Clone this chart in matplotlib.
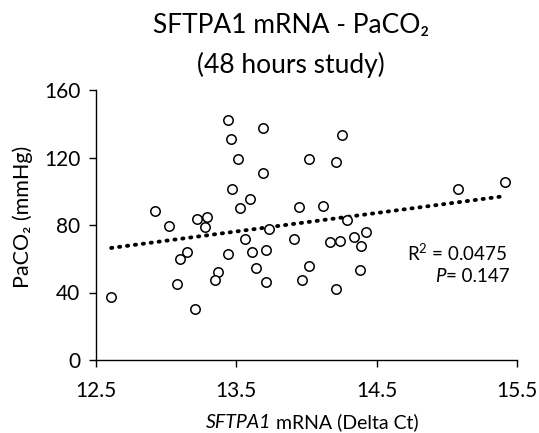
import matplotlib
matplotlib.use('Agg')
import matplotlib.pyplot as plt

# Delta Ct vs PaCO2
delta_ct = [12.61, 12.92, 13.02, 13.22, 13.29, 13.28, 13.15, 13.10, 13.08, 13.37,
            13.35, 13.21, 13.44, 13.44, 13.46, 13.47, 13.69, 14.25, 13.51, 14.02,
            14.21, 13.69, 13.60, 13.53, 13.95, 14.12, 13.73, 14.29, 14.42, 13.56,
            13.91, 14.17, 14.24, 14.34, 14.39, 13.61, 13.71, 13.64, 14.02, 14.38,
            13.71, 13.97, 14.21, 15.08, 15.41]
paco2 = [37.4, 88.2, 79.7, 83.3, 85.0, 79.1, 63.9, 59.7, 44.9, 52.2,
         47.3, 30.3, 63.1, 142.5, 130.8, 101.6, 137.2, 133.6, 119.4, 119.2,
         117.6, 111.1, 95.7, 89.8, 90.7, 91.0, 77.9, 82.7, 75.9, 71.6,
         71.6, 69.8, 70.8, 72.8, 67.6, 64.1, 65.1, 54.8, 55.8, 53.2,
         46.5, 47.7, 41.8, 101.6, 105.2]

# linear trend line end points
trend_x = [12.61, 15.39]
trend_y = [66.4, 96.9]

xticks = [12.5, 13.5, 14.5, 15.5]
xticklabels = ['12.5', '13.5', '14.5', '15.5']
yticks = [0, 40, 80, 120, 160]

plt.rcParams['font.family'] = ['Lato', 'DejaVu Sans']
plt.rcParams['mathtext.fontset'] = 'custom'
plt.rcParams['mathtext.rm'] = 'Lato'
plt.rcParams['mathtext.it'] = 'Lato:italic'

W, H = 539, 433
fig = plt.figure(figsize=(W / 100, H / 100), dpi=100)
ax = fig.add_axes([95.7 / W, 73 / H, 421.6 / W, 270 / H])

ax.plot(trend_x, trend_y, color='black', lw=2.8, linestyle=(0, (0.3, 1.75)),
        dash_capstyle='round')
ax.scatter(delta_ct, paco2, s=46, facecolor='white', edgecolor='black',
           linewidth=1.1, zorder=3, clip_on=False)

ax.set_xlim(12.5, 15.5)
ax.set_ylim(0, 160)
ax.set_xticks(xticks)
ax.set_xticklabels(xticklabels)
ax.set_yticks(yticks)
for side in ['top', 'right']:
    ax.spines[side].set_visible(False)
for side in ['left', 'bottom']:
    ax.spines[side].set_linewidth(1.0)
ax.tick_params(direction='out', length=5, width=1.0, labelsize=15)
ax.tick_params(axis='x', pad=10)
ax.tick_params(axis='y', pad=6)

ax.set_ylabel('PaCO₂ (mmHg)', fontsize=15.5)
ax.yaxis.set_label_coords(33 / W, 0.5, transform=fig.transFigure)

# x label: italic gene name followed by upright text
lbl1 = fig.text(0, 1 - 428 / H, 'SFTPA1', fontstyle='italic', fontsize=14,
                va='baseline', ha='left')
lbl2 = fig.text(0, 1 - 428 / H, ' mRNA (Delta Ct)', fontsize=14,
                va='baseline', ha='left')
fig.canvas.draw()
r = fig.canvas.get_renderer()
w1 = lbl1.get_window_extent(r).width
w2 = lbl2.get_window_extent(r).width
x0 = 312 - (w1 + w2) / 2
lbl1.set_x(x0 / W)
lbl2.set_x((x0 + w1) / W)

fig.text(291 / W, 1 - 33 / H, 'SFTPA1 mRNA - PaCO₂', ha='center', va='baseline',
         fontsize=19)
fig.text(291 / W, 1 - 73 / H, '(48 hours study)', ha='center', va='baseline',
         fontsize=19)

ax.text(15.07, 58.5, r'R$^{2}$ = 0.0475', ha='center', va='baseline', fontsize=13.5)
ax.text(14.99, 46.1, 'P', ha='right', va='baseline', fontsize=13.5,
        fontstyle='italic')
ax.text(14.99, 46.1, '= 0.147', ha='left', va='baseline', fontsize=13.5)

fig.savefig('out.png', dpi=100)
